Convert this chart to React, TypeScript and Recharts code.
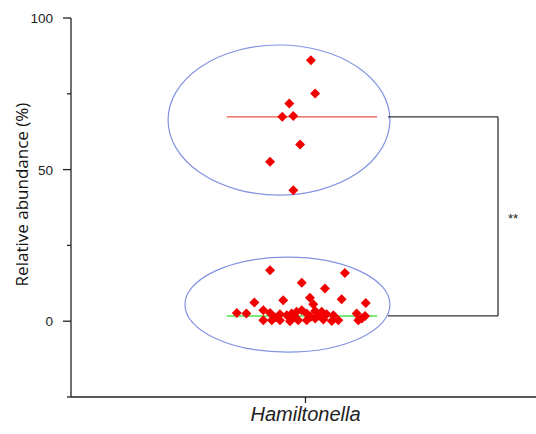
import { ScatterChart, Scatter, XAxis, YAxis, ReferenceArea, ReferenceLine, ReferenceDot, Label } from "recharts";

// one category on the x axis, points jittered around x = 1
const category = "Hamiltonella";
const xTicks = [1];
const yTicks = [-25, 0, 25, 50, 75, 100];
const yLabelled = [0, 50, 100];

const highX = [1.023, 1.041, 0.931, 0.901, 0.948, 0.977, 0.849, 0.948];
const highY = [86.1, 75.1, 71.8, 67.4, 67.7, 58.3, 52.6, 43.2];

const lowX = [
  0.849, 1.168, 0.984, 1.083, 0.782, 0.905, 1.019, 1.033, 1.154, 1.257,
  0.707, 0.748, 0.82, 0.849, 0.82, 0.856, 0.891, 0.891, 0.92, 0.941,
  0.962, 0.934, 0.969, 0.984, 1.005, 1.005, 1.041, 1.041, 1.069, 1.076,
  1.09, 1.112, 1.119, 1.14, 1.218, 1.225, 1.24, 1.254, 1.023, 0.87,
  0.955, 1.053,
];
const lowY = [
  16.8, 15.9, 12.7, 10.8, 6.2, 6.9, 7.7, 5.6, 7.2, 6.0,
  2.7, 2.5, 3.6, 2.7, 0.3, 0.3, 0.3, 2.3, 2.0, 2.5,
  3.1, 0.0, 0.3, 3.6, 2.5, 0.3, 3.4, 0.9, 3.1, 0.6,
  2.3, 0.1, 2.0, 0.3, 2.5, 0.3, 0.9, 1.7, 1.5, 1.2,
  1.4, 1.8,
];

const highMedian = 67.4;
const lowMedian = 1.75;
const signif = "**";

// annotation extents in data units
const highEllipse = { x1: 0.414, x2: 1.36, y1: 41.6, y2: 91.1 };
const lowEllipse = { x1: 0.486, x2: 1.36, y1: -10.2, y2: 21.1 };
const medianX = [0.664, 1.305];
const bracketX = [1.352, 1.821];
const signifPos = { x: 1.885, y: 34 };

const AXIS_X = 71;

const highData = highX.map((x, i) => ({ x, y: highY[i] }));
const lowData = lowX.map((x, i) => ({ x, y: lowY[i] }));

const Diamond = (p: any) => {
  const s = 5;
  const { cx, cy } = p;
  return <polygon points={`${cx},${cy - s} ${cx + s},${cy} ${cx},${cy + s} ${cx - s},${cy}`} fill="#f20000" />;
};

const EllipseShape = (p: any) => (
  <ellipse
    cx={p.x + p.width / 2}
    cy={p.y + p.height / 2}
    rx={p.width / 2}
    ry={p.height / 2}
    fill="none"
    stroke="#8393e3"
    strokeWidth={1.2}
  />
);

const YTick = (p: any) => {
  const { y, payload } = p;
  const major = yLabelled.includes(payload.value);
  return (
    <g>
      <line x1={AXIS_X} x2={AXIS_X - (major ? 8 : 4)} y1={y} y2={y} stroke="#222" strokeWidth={1.3} />
      {major && (
        <text x={AXIS_X - 18} y={y} dy={5} textAnchor="end" fontSize={13.5} fill="#222" fontFamily="Liberation Sans, Arial, sans-serif">
          {payload.value}
        </text>
      )}
    </g>
  );
};

export default function App() {
  return (
    <div style={{ position: "absolute", left: 0, top: 0, width: 536, height: 434, overflow: "hidden", background: "#fff" }}>
      <ScatterChart width={540} height={434} margin={{ top: 18, right: 0, bottom: 0, left: 0 }}>
        <XAxis
          type="number"
          dataKey="x"
          domain={[0, 2]}
          ticks={xTicks}
          tickFormatter={() => category}
          height={37}
          tickSize={6}
          tickMargin={4}
          stroke="#222"
          strokeWidth={1.3}
          tick={{ fontSize: 20, fontStyle: "italic", fill: "#222", fontFamily: "Liberation Sans, Arial, sans-serif" }}
        />
        <YAxis
          type="number"
          dataKey="y"
          domain={[-25, 100]}
          ticks={yTicks}
          width={AXIS_X}
          tickLine={false}
          stroke="#222"
          strokeWidth={1.3}
          tick={<YTick />}
        >
          <Label
            content={(props: any) => {
              const vb = props.viewBox;
              const cx = 22;
              const cy = vb.y + vb.height / 2 - 13;
              return (
                <text x={cx} y={cy} transform={`rotate(-90 ${cx} ${cy})`} textAnchor="middle" dy={6} fontSize={17} fill="#111" fontFamily="Open Sans, sans-serif">
                  Relative abundance (%)
                </text>
              );
            }}
          />
        </YAxis>
        <ReferenceArea {...highEllipse} shape={<EllipseShape />} ifOverflow="visible" />
        <ReferenceArea {...lowEllipse} shape={<EllipseShape />} ifOverflow="visible" />
        <ReferenceLine segment={[{ x: medianX[0], y: highMedian }, { x: medianX[1], y: highMedian }]} stroke="#e8574a" strokeWidth={1.3} />
        <ReferenceLine segment={[{ x: bracketX[0], y: highMedian }, { x: bracketX[1], y: highMedian }]} stroke="#333" strokeWidth={1.3} />
        <ReferenceLine segment={[{ x: bracketX[0], y: lowMedian }, { x: bracketX[1], y: lowMedian }]} stroke="#333" strokeWidth={1.3} />
        <ReferenceLine segment={[{ x: bracketX[1], y: highMedian }, { x: bracketX[1], y: lowMedian }]} stroke="#333" strokeWidth={1.3} />
        <Scatter data={highData} shape={<Diamond />} isAnimationActive={false} />
        <Scatter data={lowData} shape={<Diamond />} isAnimationActive={false} />
        <ReferenceLine segment={[{ x: medianX[0], y: lowMedian }, { x: medianX[1], y: lowMedian }]} stroke="#4fe04f" strokeOpacity={0.75} strokeWidth={2} />
        <ReferenceDot
          x={signifPos.x}
          y={signifPos.y}
          shape={(p: any) => (
            <text x={p.cx} y={p.cy} dy={5} textAnchor="middle" fontSize={13} fill="#222" fontFamily="Liberation Sans, Arial, sans-serif">
              {signif}
            </text>
          )}
        />
      </ScatterChart>
    </div>
  );
}
